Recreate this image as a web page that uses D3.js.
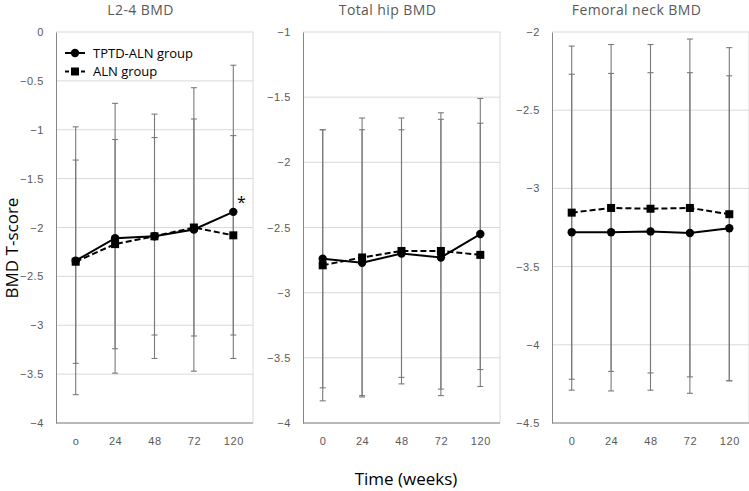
<!DOCTYPE html>
<html>
<head>
<meta charset="utf-8">
<script src="https://cdn.jsdelivr.net/npm/d3@7"></script>
<style>
  body { margin: 0; background: #fff; }
  svg { display: block; font-family: "Open Sans", "Noto Sans", sans-serif; }
</style>
</head>
<body>
<div class="container"></div>
<script>
// time points (weeks); first panel prints the zero as "o"
const weeks = ["0", "24", "48", "72", "120"];
const firstPanelTicks = ["o", "24", "48", "72", "120"];

const titles = ["L2-4 BMD", "Total hip BMD", "Femoral neck BMD"];
const yDomains = [[-4, 0], [-4, -1], [-4.5, -2]];

// mean T-score per panel
const tptdMean = [
    [-2.34, -2.11, -2.09, -2.02, -1.84],
    [-2.74, -2.77, -2.70, -2.73, -2.55],
    [-3.28, -3.28, -3.275, -3.285, -3.255]
];
const alnMean = [
    [-2.35, -2.17, -2.09, -2.00, -2.08],
    [-2.79, -2.73, -2.68, -2.68, -2.71],
    [-3.155, -3.125, -3.13, -3.125, -3.165]
];
// standard deviations (error bars)
const tptdSd = [
    [1.37, 1.38, 1.25, 1.45, 1.50],
    [0.99, 1.02, 0.95, 1.06, 1.04],
    [1.01, 1.015, 1.015, 1.025, 0.975]
];
const alnSd = [
    [1.04, 1.07, 1.01, 1.11, 1.02],
    [1.04, 1.07, 1.02, 1.06, 1.01],
    [1.065, 1.045, 1.05, 1.08, 1.065]
];

const width = 749, height = 491;
const plotW = 197, plotTop = 32, plotBottom = 423;
const plotLefts = [56, 303, 552];

const svg = d3.select(".container")
    .append("svg")
    .attr("width", width)
    .attr("height", height);

plotLefts.forEach((left, p) => {
    const g = svg.append("g");

    const x = d3.scalePoint()
        .domain(weeks)
        .range([left, left + plotW])
        .padding(0.5);

    const y = d3.scaleLinear()
        .domain(yDomains[p])
        .range([plotBottom, plotTop]);

    const ticks = d3.range(yDomains[p][0], yDomains[p][1] + 0.001, 0.5);

    // 网格线
    g.append("g")
        .selectAll("line")
        .data(ticks)
        .join("line")
        .attr("x1", left)
        .attr("x2", left + plotW)
        .attr("y1", d => y(d))
        .attr("y2", d => y(d))
        .attr("stroke", "#d9d9d9")
        .attr("stroke-width", 1);

    // right border
    g.append("line")
        .attr("x1", left + plotW).attr("x2", left + plotW)
        .attr("y1", plotTop).attr("y2", plotBottom)
        .attr("stroke", "#d9d9d9");

    // y axis
    const yAxis = g.append("g")
        .attr("transform", `translate(${left},0)`)
        .call(d3.axisLeft(y).tickValues(ticks).tickSize(0).tickPadding(12)
            .tickFormat(d => d3.format("")(+d.toFixed(1))));
    yAxis.select(".domain").attr("stroke", "#868686");
    yAxis.selectAll("text")
        .attr("fill", "#595959")
        .style("font-size", "11px")
        .style("letter-spacing", "0.6px");

    // x axis
    const xAxis = g.append("g")
        .attr("transform", `translate(0,${plotBottom})`)
        .call(d3.axisBottom(x).tickSize(0).tickPadding(14)
            .tickFormat((d, i) => p === 0 ? firstPanelTicks[i] : d));
    xAxis.select(".domain").attr("stroke", "#868686").attr("d", `M${left},0H${left + plotW}`);
    xAxis.selectAll("text")
        .attr("fill", "#595959")
        .style("font-size", "11px")
        .style("letter-spacing", "0.6px");

    // 标题
    g.append("text")
        .attr("x", (left - 28 + left + plotW) / 2)
        .attr("y", 15)
        .attr("text-anchor", "middle")
        .attr("fill", "#595959")
        .style("font-size", "14px")
        .style("letter-spacing", "0.4px")
        .text(titles[p]);

    const groups = [
        { mean: alnMean[p], sd: alnSd[p], dash: "6,3", shape: "square" },
        { mean: tptdMean[p], sd: tptdSd[p], dash: null, shape: "circle" }
    ];

    // error bars
    groups.forEach(grp => {
        const eb = g.append("g")
            .attr("stroke", "#7a7a7a")
            .attr("stroke-width", 1.1);
        weeks.forEach((w, i) => {
            const hi = grp.mean[i] + grp.sd[i];
            const lo = grp.mean[i] - grp.sd[i];
            eb.append("line")
                .attr("x1", x(w)).attr("x2", x(w))
                .attr("y1", y(hi)).attr("y2", y(lo));
            [hi, lo].forEach(v => {
                eb.append("line")
                    .attr("x1", x(w) - 3).attr("x2", x(w) + 3)
                    .attr("y1", y(v)).attr("y2", y(v));
            });
        });
    });

    // lines and markers
    groups.forEach(grp => {
        const line = d3.line()
            .x((d, i) => x(weeks[i]))
            .y(d => y(d));
        g.append("path")
            .datum(grp.mean)
            .attr("d", line)
            .attr("fill", "none")
            .attr("stroke", "#000")
            .attr("stroke-width", 2)
            .attr("stroke-dasharray", grp.dash);

        if (grp.shape === "circle") {
            g.append("g")
                .selectAll("circle")
                .data(grp.mean)
                .join("circle")
                .attr("cx", (d, i) => x(weeks[i]))
                .attr("cy", d => y(d))
                .attr("r", 4.2)
                .attr("fill", "#000");
        } else {
            g.append("g")
                .selectAll("rect")
                .data(grp.mean)
                .join("rect")
                .attr("x", (d, i) => x(weeks[i]) - 4)
                .attr("y", d => y(d) - 4)
                .attr("width", 8)
                .attr("height", 8)
                .attr("fill", "#000");
        }
    });

    if (p === 0) {
        // significance mark at week 120
        const last = tptdMean[0].length - 1;
        g.append("text")
            .attr("x", x(weeks[last]) + 8)
            .attr("y", y(tptdMean[0][last]) - 4)
            .attr("text-anchor", "middle")
            .attr("fill", "#000")
            .style("font-size", "16px")
            .text("*");

        // legend
        const legend = g.append("g");
        const items = [
            { label: "TPTD-ALN group", dash: null, shape: "circle" },
            { label: "ALN group", dash: "4,4", shape: "square" }
        ];
        items.forEach((it, i) => {
            const ly = 53 + i * 18.5;
            legend.append("line")
                .attr("x1", left + 9).attr("x2", left + 29)
                .attr("y1", ly).attr("y2", ly)
                .attr("stroke", "#000")
                .attr("stroke-width", 2)
                .attr("stroke-dasharray", it.dash);
            if (it.shape === "circle") {
                legend.append("circle")
                    .attr("cx", left + 19).attr("cy", ly).attr("r", 4.2)
                    .attr("fill", "#000");
            } else {
                legend.append("rect")
                    .attr("x", left + 15).attr("y", ly - 4)
                    .attr("width", 8).attr("height", 8)
                    .attr("fill", "#000");
            }
            legend.append("text")
                .attr("x", left + 37)
                .attr("y", ly)
                .attr("dy", "0.35em")
                .attr("fill", "#000")
                .style("font-size", "13px")
                .text(it.label);
        });
    }
});

// axis titles
svg.append("text")
    .attr("transform", `translate(18,248) rotate(-90)`)
    .attr("text-anchor", "middle")
    .attr("fill", "#000")
    .style("font-size", "17px")
    .text("BMD T-score");

svg.append("text")
    .attr("x", 406)
    .attr("y", 485)
    .attr("text-anchor", "middle")
    .attr("fill", "#000")
    .style("font-size", "17px")
    .text("Time (weeks)");
</script>
</body>
</html>
